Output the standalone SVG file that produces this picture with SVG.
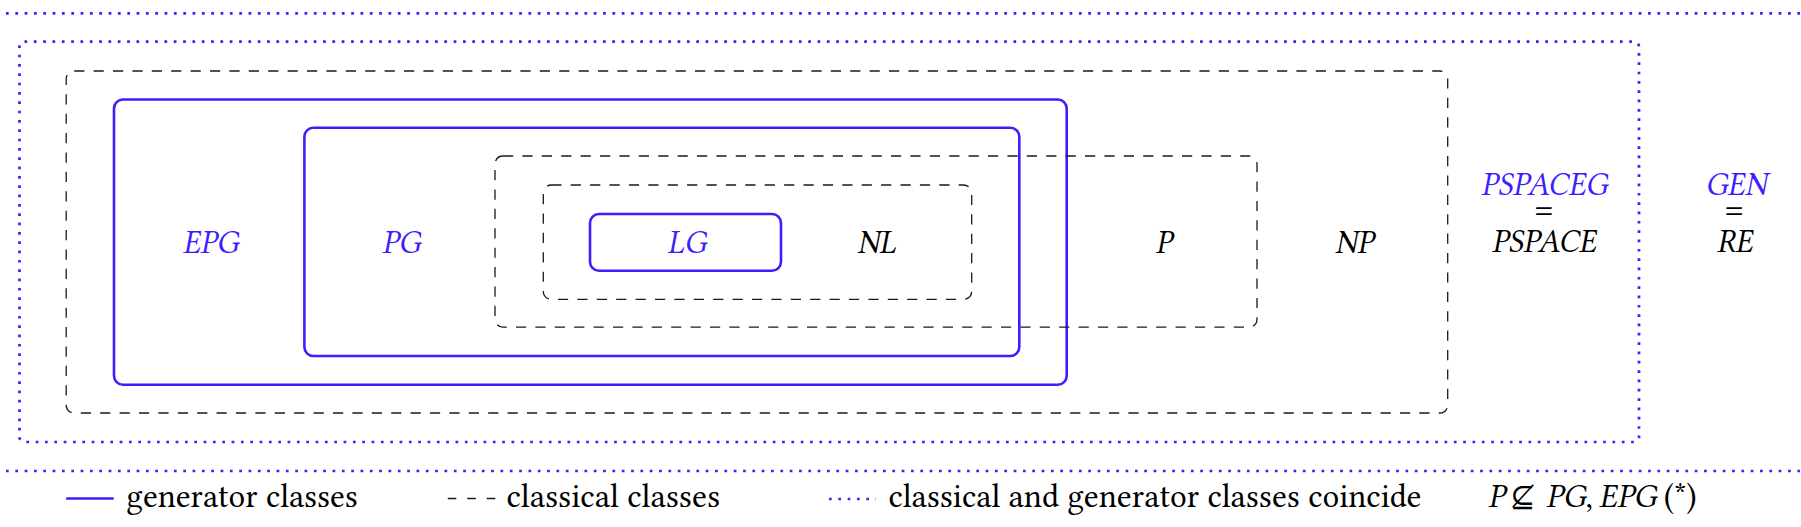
<svg xmlns="http://www.w3.org/2000/svg" width="1801" height="527" viewBox="0 0 1801 527">
<style>
  .gen { fill: none; stroke: #3c1eff; stroke-width: 2.6; }
  .cls { fill: none; stroke: #1a1a1a; stroke-width: 1.3; stroke-dasharray: 10.2 9.2; }
  .dot { fill: none; stroke: #3c1eff; stroke-width: 2.7; stroke-dasharray: 2.7 6.63; }
  text { font-family: 'Linux Libertine O', 'Libertinus Serif', 'Liberation Serif', Tinos, 'Noto Serif', 'DejaVu Serif', FreeSerif, 'Times New Roman', Times, serif; }
  .lbl { font-style: italic; font-size: 33px; }
  .eq { font-style: normal; font-size: 37px; }
  .blue { fill: #3c1eff; }
  .blk { fill: #000; }
  .leg { font-size: 34px; fill: #000; }
</style>
<rect width="1801" height="527" fill="#fff"/>

<!-- page separators -->
<line class="dot" x1="6" y1="13.3" x2="1801" y2="13.3"/>
<line class="dot" x1="6" y1="471" x2="1801" y2="471"/>

<g id="GEN">
  <rect class="dot" x="19.5" y="41.7" width="1619.5" height="400.3" rx="5"/>
  <text class="lbl" text-anchor="middle"><tspan class="blue" x="1736" y="195">GEN</tspan><tspan class="eq blk" x="1734.3" y="220">=</tspan><tspan class="blk" x="1734.7" y="252">RE</tspan></text>
</g>

<g id="PSPACE">
  <text class="lbl" text-anchor="middle"><tspan class="blue" x="1544.2" y="195">PSPACEG</tspan><tspan class="eq blk" x="1544" y="220">=</tspan><tspan class="blk" x="1543.9" y="252">PSPACE</tspan></text>
</g>

<g id="NP">
  <rect class="cls" x="66.2" y="71" width="1381.5" height="342" rx="8"/>
  <text class="lbl blk" x="1354.2" y="252.7" text-anchor="middle">NP</text>
</g>

<g id="EPG">
  <rect class="gen" x="114" y="99.5" width="952.7" height="285.2" rx="9"/>
  <text class="lbl blue" x="210.5" y="252.7" text-anchor="middle">EPG</text>
</g>

<g id="PG">
  <rect class="gen" x="304.4" y="127.7" width="714.9" height="228.3" rx="9"/>
  <text class="lbl blue" x="401.3" y="252.7" text-anchor="middle">PG</text>
</g>

<g id="P">
  <rect class="cls" x="495" y="156" width="762" height="171.2" rx="8"/>
  <text class="lbl blk" x="1163.8" y="252.7" text-anchor="middle">P</text>
</g>

<g id="NL">
  <rect class="cls" x="543.3" y="185" width="428.4" height="114.3" rx="8"/>
  <text class="lbl blk" x="876.7" y="252.7" text-anchor="middle">NL</text>
</g>

<g id="LG">
  <rect class="gen" x="590" y="214" width="191" height="56.7" rx="9"/>
  <text class="lbl blue" x="686.7" y="252.7" text-anchor="middle">LG</text>
</g>

<g id="connectors"></g>

<g id="legend">
  <line class="gen" x1="66.2" y1="498.5" x2="113.7" y2="498.5"/>
  <text class="leg" x="126.3" y="507" textLength="231.5" lengthAdjust="spacingAndGlyphs">generator classes</text>
  <line class="cls" x1="447.8" y1="498.5" x2="495.6" y2="498.5" style="stroke-dasharray:8.5 11"/>
  <text class="leg" x="506.5" y="507" textLength="213.5" lengthAdjust="spacingAndGlyphs">classical classes</text>
  <line class="dot" x1="829" y1="499" x2="876" y2="499"/>
  <text class="leg" x="888.5" y="507" textLength="533" lengthAdjust="spacingAndGlyphs">classical and generator classes coincide</text>
  <text class="leg" y="507"><tspan x="1488" font-style="italic">P</tspan><tspan x="1510" font-size="30">⊈</tspan><tspan x="1546" font-style="italic">PG</tspan><tspan>,</tspan><tspan x="1599" font-style="italic">EPG</tspan><tspan x="1663.8">(*)</tspan></text>
</g>
</svg>
